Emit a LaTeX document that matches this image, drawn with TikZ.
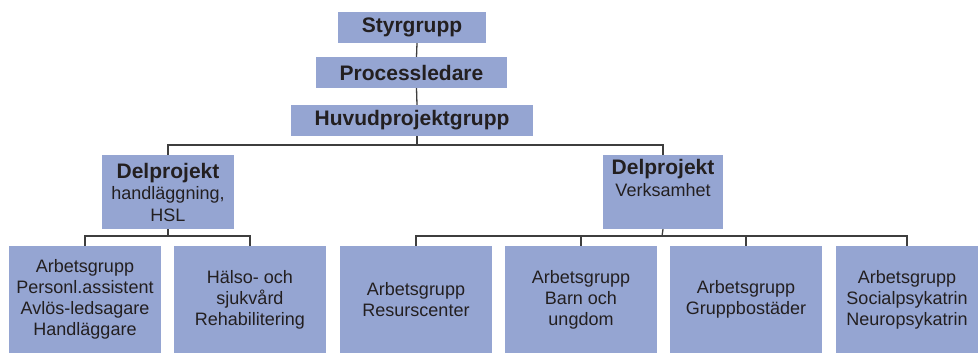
\documentclass[tikz,border=0pt]{standalone}
\usepackage{fontspec}
\setmainfont{Liberation Sans}
\definecolor{boxblue}{RGB}{149,165,210}
\definecolor{linegray}{RGB}{62,62,62}
\definecolor{txtdark}{RGB}{35,31,32}

\begin{document}
\begin{tikzpicture}[x=1pt,y=-1pt,
  box/.style={fill=boxblue,inner sep=0pt,align=center,text=txtdark},
  topbox/.style={box,minimum height=31pt,font=\fontsize{21}{24}\selectfont\bfseries},
  delbox/.style={box,minimum height=74pt,font=\fontsize{18}{21.5}\selectfont},
  grpbox/.style={box,minimum width=152pt,minimum height=107pt,font=\fontsize{18}{21}\selectfont},
  conn/.style={draw=linegray,line width=1.3pt}]
\useasboundingbox (0,0) rectangle (979,354);

% Top chain
\node[topbox,minimum width=148pt] (sty) at (412,27.5) {Styrgrupp};
\node[topbox,minimum width=191pt] (pl) at (411.5,72.5) {Processledare};
\node[topbox,minimum width=242pt] (hpg) at (412,120.5) {Huvudprojektgrupp};

% Delprojekt
\node[delbox,minimum width=132pt] (dl) at (168,192) {{\fontsize{21}{22}\selectfont\bfseries Delprojekt}\\handläggning,\\HSL};
\node[delbox,minimum width=120pt] (dr) at (663,192) {{\fontsize{21}{22}\selectfont\bfseries Delprojekt}\\Verksamhet\\\strut};

% Arbetsgrupper
\node[grpbox] (b1) at (85,299.5) {Arbetsgrupp\\Personl.assistent\\Avlös-ledsagare\\Handläggare};
\node[grpbox] (b2) at (250,299.5) {Hälso- och\\sjukvård\\Rehabilitering};
\node[grpbox] (b3) at (416,299.5) {Arbetsgrupp\\Resurscenter};
\node[grpbox] (b4) at (581,299.5) {Arbetsgrupp\\Barn och\\ungdom};
\node[grpbox] (b5) at (746,299.5) {Arbetsgrupp\\Gruppbostäder};
\node[grpbox,minimum width=142pt] (b6) at (907,299.5) {Arbetsgrupp\\Socialpsykatrin\\Neuropsykatrin};

% Connectors
\draw[conn] ([xshift=5pt]sty.south) -- ([xshift=5pt]pl.north);
\draw[conn] ([xshift=5pt]pl.south) -- ([xshift=5pt]hpg.north);
\coordinate (j0) at (417,145);
\draw[conn] ([xshift=5pt]hpg.south) -- (j0);
\draw[conn] (dl.north) |- (j0) -| (dr.north);

\coordinate (j1) at (168,236);
\draw[conn] (dl.south) -- (j1);
\draw[conn] (b1.north) |- (j1) -| (b2.north);

\coordinate (j2) at (662,236);
\draw[conn] (dr.south) -- (j2);
\draw[conn] (b3.north) |- (j2) -| (b6.north);
\draw[conn] (b4.north) -- (b4.north |- j2);
\draw[conn] (b5.north) -- (b5.north |- j2);

\end{tikzpicture}
\end{document}
